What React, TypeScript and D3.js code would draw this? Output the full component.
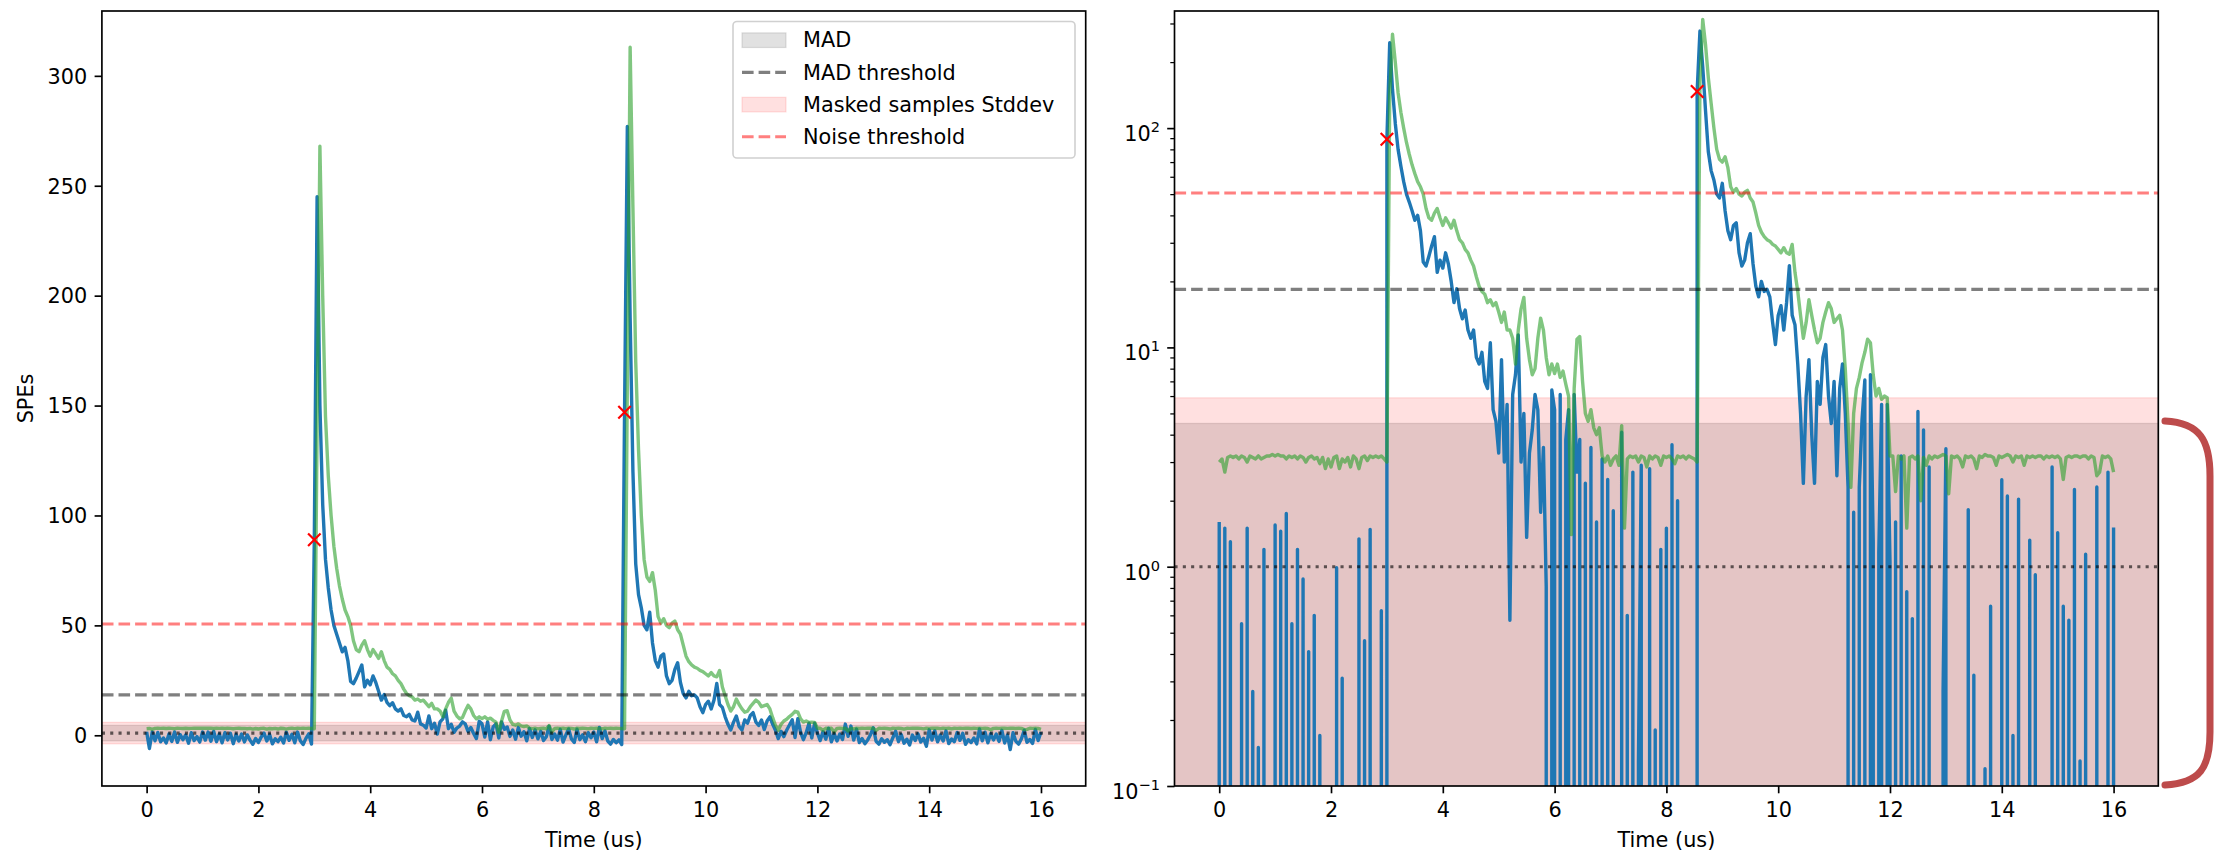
import { useEffect, useRef } from "react";
import * as d3 from "d3";

const WIDTH = 2216;
const HEIGHT = 855;
const FONT = "'DejaVu Sans', sans-serif";
const FS = 20.8;

// sample spacing of the trace, in us
const DT = 0.05;

// measured waveform (SPEs), split into stretches of the trace
const blueA = [
  1.6, -6.0, 1.5, -2.5, 1.3, -3.0, -1.2, -3.5, 0.55, -2.8,
  1.5, -3.2, 0.27, -2.0, 0.15, -3.6, 1.2, -2.4, -0.6, -3.1,
  1.55, -2.2, 1.45, -2.7, 1.75, -2.9, 0.55, -3.4, 1.2, -2.1,
  0.88, -3.8, 0.41, -2.6, 0.6, -3.0, 0.17, -2.2, -4.1, -1.5,
  -3.3, -0.8, 0.99, -2.6, 0.31, -3.9, -1.6, -2.9, -0.9, -3.5,
  1.34, -2.3, 0.46, -3.4, 1.48, -2.5, -4.2, -1.4, 0.63, -4.0,
];
const blueB = [
  89, 245, 150, 105, 80, 67, 57, 50, 46, 42,
  38, 40, 34, 24.5, 23.5, 26, 29, 32, 22, 25,
  23, 27, 24, 20, 16, 18.5, 15, 13.5, 14.8, 12,
  11, 12, 9, 8.4, 9.5, 7, 6.5, 10.5, 5.2, 4.6,
  3.3, 8.8, 3.0, 5.5, 0.57, 6.1, 7.5, 11.4, 3.0, 5.0,
  1.36, 3.3, 4.2, 6.1, 5.2, 1.77, 3.5, 0.81, -1.5, 6.4,
];
const blueC = [
  5.2, -0.8, 6.1, -2.0, 3.8, 5.2, -1.2, 6.1, 2.7, 3.8,
  -0.5, 2.4, -1.8, 3.5, -0.4, 1.6, -2.5, 3.1, -1.0, 2.5,
  -1.6, 1.8, -2.4, -0.7, 4.1, -1.9, 0.6, -2.2, 2.7, -3.1,
  0.13, 2.9, -1.7, -3.3, 2.8, -2.0, 0.18, -2.9, 1.2, -1.1,
  1.5, -3.0, 3.6, -1.5, 2.0, -2.6, -4.0, -1.9, -3.4, -2.1, -4.2,
];
const blueD = [
  147, 277, 190, 120, 78, 64, 58, 50, 48, 56,
  42, 34, 31, 36, 37, 27, 23.5, 25, 30, 33,
  24, 19, 17, 20, 18, 18.4, 17, 13, 10.3, 14,
  15.5, 12, 16, 23.6, 14, 12.7, 8.4, 5, 2.4, 6,
  8.8, 4, 2.4, 7, 5.5, 9, 10.3, 6, 4.5, 7,
  2.6, 6.5, 8.4, 5, 2.3,
];
const blueE = [
  -1.5, 1.77, -0.6, 2.3, 4.7, 7.1, -1.0, 7.5, 1.3, -2.0,
  1.17, 5.5, -1.2, 5.5, 1.05, -2.4, 1.6, -1.8, 3.2, -3.0,
  0.77, -2.6, 0.58, -1.9, 5.1, -0.5, 4.2, -2.2, 2.85, -3.3,
  -1.5, -3.8, -2.1, 0.27, 3.45, -2.7, -4.0, -1.6, -3.2, -2.0,
  -4.3, -1.1, 1.82, -2.9, 0.32, -3.6, -1.8, -4.4, 0.12, -2.4,
  0.66, -3.1, -1.4, -5.0, 2.49, -2.2, 2.1, -3.0, 0.17, -2.6,
  2.03, -3.8, -1.7, -2.9, 1.32, -2.3, 0.92, -4.1, -2.0, -3.3,
  -1.2, -3.9, 2.85, -2.5, 1.43, -3.4, 0.66, -2.1, 0.57, -2.8,
  2.25, -3.5, 0.13, -6.5, 1.14, -2.7, -4.0, -1.6, 2.31, -3.2,
  -1.9, -3.7, 2.7, -2.4, 1.51,
];

// smoothed trace (SPEs)
const greenA = [
  3.0, 3.1, 2.7, 3.15, 3.2, 3.15, 3.2, 3.1, 3.2, 3.15,
  3.0, 3.2, 3.15, 3.1, 3.2, 3.1, 3.15, 3.2, 3.2, 3.25,
  3.2, 3.25, 3.2, 3.2, 3.1, 3.2, 3.15, 3.2, 3.1, 3.2,
  3.15, 3.0, 3.15, 3.2, 3.1, 3.15, 2.95, 3.15, 2.8, 3.1,
  2.85, 3.15, 3.2, 2.8, 3.1, 3.0, 3.15, 2.85, 3.2, 3.1,
  2.8, 3.15, 3.2, 3.05, 3.2, 3.15, 3.2, 3.15, 3.2, 3.1,
];
const greenB = [
  3.0, 140, 268, 200, 145, 118, 100, 86, 76, 68,
  62, 57, 54, 50, 43, 39, 38, 41, 43, 39,
  36, 39, 37, 35, 38, 34, 31, 30, 28, 27,
  25, 23.5, 21, 19, 18, 17.5, 16, 16.5, 15.5, 16,
  14.5, 13, 14.5, 12, 12, 11, 8.4, 12, 15, 16.9,
  11, 8.8, 7.5, 8, 11, 13.6, 12, 9, 7.5, 8.4,
];
const greenC = [
  7.6, 8.4, 7.3, 7.8, 6.8, 6.0, 1.4, 6.5, 10.9, 11.2,
  7, 5.0, 4.6, 5.2, 4.3, 4.0, 4.3, 3.2, 3.0, 3.2,
  2.9, 3.1, 3.2, 2.9, 4.4, 1.5, 3.1, 3.2, 3.15, 3.2,
  3.0, 3.2, 3.15, 2.85, 3.2, 3.1, 3.2, 3.15, 2.9, 3.2,
  3.15, 3.2, 3.1, 2.95, 3.2, 3.15, 3.2, 3.1, 3.2, 3.15, 3.1,
];
const greenD = [
  3.0, 160, 313, 240, 170, 130, 100, 80, 72, 70,
  74, 66, 54, 51, 53, 50, 49, 51, 52, 48,
  46, 41, 36, 33.5, 32, 31, 30.5, 29.5, 29, 28,
  27, 28.5, 27, 26.6, 29.5, 22, 18, 14, 11, 13,
  16.5, 14, 12, 10.5, 11, 13, 14.5, 16, 15, 13,
  13.5, 14, 12, 8, 4.5,
];
const greenE = [
  2.3, 5, 6.5, 7.3, 8.5, 9.5, 10.9, 10.5, 7.5, 6.0,
  6.5, 5.8, 6.0, 5.9, 3.2, 3.2, 2.2, 3.2, 3.1, 3.2,
  1.5, 3.15, 3.2, 3.1, 3.2, 2.0, 3.15, 2.9, 3.2, 3.1,
  3.2, 3.15, 3.2, 3.25, 3.2, 2.15, 3.2, 3.15, 3.2, 3.1,
  2.85, 3.2, 3.15, 3.2, 3.1, 2.8, 3.2, 3.15, 3.25, 3.2,
  3.2, 3.15, 2.9, 3.2, 3.15, 3.2, 3.25, 3.2, 3.0, 3.2,
  3.15, 3.2, 2.9, 3.2, 3.15, 3.2, 3.15, 3.2, 3.2, 3.1,
  3.2, 3.15, 3.2, 3.15, 3.2, 3.1, 2.5, 3.15, 3.2, 3.15,
  3.2, 3.2, 3.15, 3.2, 3.2, 3.1, 3.2, 3.15, 2.6, 2.7,
  3.2, 3.15, 3.2, 3.1, 2.7,
];

const segmentStarts = [0, 3.0, 6.0, 8.55, 11.3];
const blueSegments = [blueA, blueB, blueC, blueD, blueE];
const greenSegments = [greenA, greenB, greenC, greenD, greenE];

// detected pulses (x markers)
const peakTimes = [3.0, 8.55];
const peakHeights = [89, 147];

// horizontal levels
const baselineLevel = 1.0;
const madHalfWidth = 3.5;
const stdHalfWidth = 4.89;
const madThreshold = 18.4;
const noiseThreshold = 50.6;

const xTicks = [0, 2, 4, 6, 8, 10, 12, 14, 16];
const linTicks = [0, 50, 100, 150, 200, 250, 300];
const logTicks = [0.1, 1, 10, 100];
const logTickExps = ["\u22121", "0", "1", "2"];
const legendLabels = ["MAD", "MAD threshold", "Masked samples Stddev", "Noise threshold"];

const X_DOMAIN = [-0.8, 16.8];
const LIN_DOMAIN = [-23.07, 329.5];
const LOG_DOMAIN = [0.1, 342];
const TOP = 11;
const BOTTOM = 786;
const LW = 3.1;
const DATA_LW = 3.4;

const toPoints = (segs: number[][]) =>
  segs.flatMap((vals, s) => vals.map((v, i) => [segmentStarts[s] + i * DT, v] as [number, number]));

const bluePoints = toPoints(blueSegments);
const greenPoints = toPoints(greenSegments);

function styleAxis(g: any, width: number) {
  g.attr("font-size", null).attr("font-family", null);
  g.select(".domain").remove();
  g.selectAll(".tick line").attr("stroke", "#000").attr("stroke-width", width);
  g.selectAll(".tick text").attr("fill", "#000");
}

function drawPanel(svg: any, left: number, right: number, log: boolean, clipId: string) {
  const x = d3.scaleLinear().domain(X_DOMAIN).range([left, right]);
  const y: any = log
    ? d3.scaleLog().domain(LOG_DOMAIN).range([BOTTOM, TOP])
    : d3.scaleLinear().domain(LIN_DOMAIN).range([BOTTOM, TOP]);
  const yOf = (v: number) => (log && v <= 0 ? BOTTOM + 1e5 : y(v));

  svg
    .append("clipPath")
    .attr("id", clipId)
    .append("rect")
    .attr("x", left)
    .attr("y", TOP)
    .attr("width", right - left)
    .attr("height", BOTTOM - TOP);

  const plot = svg.append("g").attr("clip-path", `url(#${clipId})`);

  // shaded bands
  const band = (lo: number, hi: number, color: string, alpha: number) => {
    const y1 = yOf(hi);
    const y0 = Math.min(yOf(lo), BOTTOM + 10);
    plot
      .append("rect")
      .attr("x", left - 2)
      .attr("width", right - left + 4)
      .attr("y", y1)
      .attr("height", y0 - y1)
      .attr("fill", color)
      .attr("fill-opacity", alpha)
      .attr("stroke", color)
      .attr("stroke-opacity", alpha)
      .attr("stroke-width", 1.2);
  };
  band(baselineLevel - madHalfWidth, baselineLevel + madHalfWidth, "#808080", 0.24);
  band(baselineLevel - stdHalfWidth, baselineLevel + stdHalfWidth, "#ff0000", 0.12);

  const line = d3
    .line<[number, number]>()
    .x((d) => x(d[0]))
    .y((d) => yOf(d[1]));

  plot
    .append("path")
    .attr("d", line(bluePoints))
    .attr("fill", "none")
    .attr("stroke", "#1f77b4")
    .attr("stroke-width", DATA_LW)
    .attr("stroke-linejoin", "round");

  plot
    .append("path")
    .attr("d", line(greenPoints))
    .attr("fill", "none")
    .attr("stroke", "#2ca02c")
    .attr("stroke-opacity", 0.6)
    .attr("stroke-width", DATA_LW)
    .attr("stroke-linejoin", "round");

  // threshold lines
  const hline = (v: number, color: string, alpha: number, dash: string) =>
    plot
      .append("line")
      .attr("x1", left)
      .attr("x2", right)
      .attr("y1", yOf(v))
      .attr("y2", yOf(v))
      .attr("stroke", color)
      .attr("stroke-opacity", alpha)
      .attr("stroke-width", LW)
      .attr("stroke-dasharray", dash);
  hline(madThreshold, "#000", 0.5, "11.6 5");
  hline(noiseThreshold, "#ff0000", 0.5, "11.6 5");
  hline(baselineLevel, "#000", 0.6, "3.1 5.2");

  // pulse markers
  plot
    .selectAll(".peak")
    .data(peakTimes.map((t, i) => [t, peakHeights[i]]))
    .join("path")
    .attr("transform", (d: number[]) => `translate(${x(d[0])},${yOf(d[1])})`)
    .attr("d", "M-6.25,-6.25L6.25,6.25M-6.25,6.25L6.25,-6.25")
    .attr("fill", "none")
    .attr("stroke", "#ff0000")
    .attr("stroke-width", 2.2);

  // axes
  const gx = svg
    .append("g")
    .attr("transform", `translate(0,${BOTTOM})`)
    .call(d3.axisBottom(x).tickValues(xTicks).tickSize(7.3).tickPadding(9).tickFormat(d3.format("d")));
  styleAxis(gx, 1.67);

  if (log) {
    const minor: number[] = [];
    [-1, 0, 1, 2].forEach((k) => {
      for (let m = 2; m <= 9; m++) {
        const v = m * Math.pow(10, k);
        if (v < LOG_DOMAIN[1]) minor.push(v);
      }
    });
    const gm = svg
      .append("g")
      .attr("transform", `translate(${left},0)`)
      .call(d3.axisLeft(y).tickValues(minor).tickSize(4.2).tickFormat(() => ""));
    styleAxis(gm, 1.25);

    const gy = svg
      .append("g")
      .attr("transform", `translate(${left},0)`)
      .call(d3.axisLeft(y).tickValues(logTicks).tickSize(7.3).tickPadding(7.3).tickFormat(() => ""));
    styleAxis(gy, 1.67);
    gy.selectAll(".tick text").each(function (this: any, _d: any, i: number) {
      const t = d3.select(this);
      t.attr("dy", "0.6em").text("10");
      t.append("tspan").attr("dy", "-0.62em").attr("font-size", "0.7em").text(logTickExps[i]);
    });
  } else {
    const gy = svg
      .append("g")
      .attr("transform", `translate(${left},0)`)
      .call(d3.axisLeft(y).tickValues(linTicks).tickSize(7.3).tickPadding(7.3).tickFormat(d3.format("d")));
    styleAxis(gy, 1.67);
    gy.selectAll(".tick text").attr("dy", "0.35em");

    svg
      .append("text")
      .attr("transform", `translate(33,${(TOP + BOTTOM) / 2}) rotate(-90)`)
      .attr("text-anchor", "middle")
      .text("SPEs");
  }

  svg
    .append("text")
    .attr("x", (left + right) / 2)
    .attr("y", 847)
    .attr("text-anchor", "middle")
    .text("Time (us)");

  // spines
  svg
    .append("rect")
    .attr("x", left)
    .attr("y", TOP)
    .attr("width", right - left)
    .attr("height", BOTTOM - TOP)
    .attr("fill", "none")
    .attr("stroke", "#000")
    .attr("stroke-width", 1.67);
}

function drawLegend(svg: any) {
  const g = svg.append("g");
  g.append("rect")
    .attr("x", 733)
    .attr("y", 21.5)
    .attr("width", 342)
    .attr("height", 136.5)
    .attr("rx", 4)
    .attr("fill", "#fff")
    .attr("fill-opacity", 0.8)
    .attr("stroke", "#d0d0d0")
    .attr("stroke-width", 1.6);

  const handles = [
    { kind: "patch", color: "#808080", alpha: 0.24 },
    { kind: "line", color: "#000", alpha: 0.5 },
    { kind: "patch", color: "#ff0000", alpha: 0.12 },
    { kind: "line", color: "#ff0000", alpha: 0.5 },
  ];
  legendLabels.forEach((label, i) => {
    const cy = 40.2 + i * 32.2;
    const h = handles[i];
    if (h.kind === "patch") {
      g.append("rect")
        .attr("x", 742)
        .attr("y", cy - 7.3)
        .attr("width", 44)
        .attr("height", 14.6)
        .attr("fill", h.color)
        .attr("fill-opacity", h.alpha)
        .attr("stroke", h.color)
        .attr("stroke-opacity", h.alpha)
        .attr("stroke-width", 1.2);
    } else {
      g.append("line")
        .attr("x1", 742)
        .attr("x2", 786)
        .attr("y1", cy)
        .attr("y2", cy)
        .attr("stroke", h.color)
        .attr("stroke-opacity", h.alpha)
        .attr("stroke-width", LW)
        .attr("stroke-dasharray", "11.6 5");
    }
    g.append("text").attr("x", 803).attr("y", cy).attr("dy", "0.35em").text(label);
  });
}

function drawBracket(svg: any) {
  svg
    .append("path")
    .attr("d", "M2165,421 C2200,423 2210,440 2210,476 L2210,732 C2210,768 2200,783 2165,785")
    .attr("fill", "none")
    .attr("stroke", "#bd4b4b")
    .attr("stroke-width", 7)
    .attr("stroke-linecap", "round");
}

export default function App() {
  const svgRef = useRef<SVGSVGElement | null>(null);

  useEffect(() => {
    const svg = d3.select(svgRef.current);
    svg.selectAll("*").remove();
    drawPanel(svg, 101.9, 1085.7, false, "clip-lin");
    drawPanel(svg, 1174.5, 2158.3, true, "clip-log");
    drawLegend(svg);
    drawBracket(svg);
  }, []);

  return (
    <>
      <style>{"body{margin:0;overflow:hidden}"}</style>
      <svg
        ref={svgRef}
        width={WIDTH}
        height={HEIGHT}
        style={{ display: "block", background: "#fff" }}
        fontFamily={FONT}
        fontSize={FS}
      />
    </>
  );
}
